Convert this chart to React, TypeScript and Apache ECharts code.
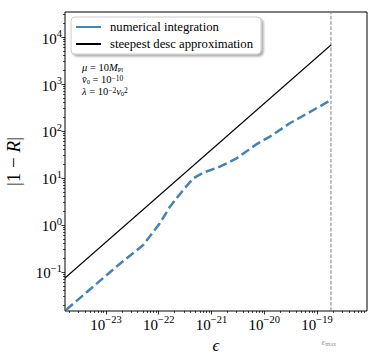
import React, { useEffect, useRef } from 'react';
import * as echarts from 'echarts';

// numerical integration curve (epsilon, |1-R|)
const numEps = [1.74e-24, 5.75e-24, 1.84e-23, 5.08e-23, 1.05e-22, 1.63e-22, 2.18e-22, 2.91e-22, 4.5e-22, 6.97e-22, 1.44e-21, 2.99e-21, 7.14e-21, 1.28e-20, 3.05e-20, 1.62e-19, 1.84e-19];
const numVals = [0.0155, 0.049, 0.15, 0.375, 1.09, 2.45, 3.7, 5.56, 9.86, 12.97, 17.4, 26.2, 52.5, 75.7, 146, 420, 442];
// steepest descent approximation
const sdEps = [1.67e-24, 1.84e-19];
const sdVals = [0.0745, 6760];
const epsMax = 1.84e-19;

const xTickExps = [-23, -22, -21, -20, -19];
const yTickExps = [-1, 0, 1, 2, 3, 4];
const xMin = Math.pow(10, -23.777);
const xMax = Math.pow(10, -18.052);
const yMin = Math.pow(10, -1.83);
const yMax = Math.pow(10, 4.532);

const legendNames = ['numerical integration', 'steepest desc approximation'];

const SERIF = "'Liberation Serif', 'DejaVu Serif', serif";

function minorVals(lo: number, hi: number): number[] {
  const out: number[] = [];
  for (let d = Math.floor(Math.log10(lo)); d <= Math.ceil(Math.log10(hi)); d++) {
    for (let k = 2; k <= 9; k++) {
      const v = k * Math.pow(10, d);
      if (v >= lo && v <= hi) out.push(v);
    }
  }
  return out;
}

const supRich = {
  b: { fontFamily: SERIF, fontSize: 15, color: '#000', verticalAlign: 'bottom', lineHeight: 18 },
  e: { fontFamily: SERIF, fontSize: 10.5, color: '#000', verticalAlign: 'top', lineHeight: 11 },
};
const fmt = (v: number) => {
  const e = Math.round(Math.log10(v));
  return `{b|10}{e|${e < 0 ? '\u2212' + -e : e}}`;
};

const annRich = {
  i: { fontFamily: SERIF, fontSize: 10.5, fontStyle: 'italic', fill: '#000', lineHeight: 11, verticalAlign: 'middle' },
  r: { fontFamily: SERIF, fontSize: 10.5, fill: '#000', lineHeight: 11, verticalAlign: 'middle' },
  s: { fontFamily: SERIF, fontSize: 6.5, fill: '#000', lineHeight: 5, verticalAlign: 'bottom' },
  p: { fontFamily: SERIF, fontSize: 7.5, fill: '#000', lineHeight: 5, verticalAlign: 'top' },
};

export default function App() {
  const ref = useRef<HTMLDivElement>(null);
  useEffect(() => {
    if (!ref.current) return;
    const chart = echarts.init(ref.current, undefined, { renderer: 'svg' });
    const xMajor = xTickExps.map((e) => Math.pow(10, e));
    const yMajor = yTickExps.map((e) => Math.pow(10, e));
    const tickStyle = { color: '#000', width: 0.8 };
    chart.setOption({
      animation: false,
      backgroundColor: '#fff',
      grid: {
        left: 65,
        top: 12,
        width: 302,
        height: 299,
        show: true,
        borderColor: '#000',
        borderWidth: 1,
        containLabel: false,
        outerBoundsMode: 'none',
      },
      legend: {
        orient: 'vertical',
        left: 71,
        top: 17,
        icon: 'rect',
        itemWidth: 25,
        itemHeight: 2,
        itemGap: 3,
        padding: [3, 8, 3, 5],
        backgroundColor: '#fff',
        borderColor: '#cccccc',
        borderWidth: 1,
        borderRadius: 4,
        shadowColor: 'rgba(0,0,0,0.35)',
        shadowOffsetX: 2,
        shadowOffsetY: 2,
        shadowBlur: 2,
        textStyle: { fontFamily: SERIF, fontSize: 12.7, color: '#000', lineHeight: 14, padding: [0, 0, 0, 4] },
        data: legendNames,
      },
      xAxis: [
        {
          type: 'log',
          logBase: 10,
          min: xMin,
          max: xMax,
          position: 'bottom',
          axisLine: { show: false },
          splitLine: { show: false },
          axisTick: { show: true, customValues: xMajor, length: 3.5, inside: false, lineStyle: tickStyle },
          axisLabel: { customValues: xMajor, formatter: fmt, rich: supRich, margin: 3 },
          name: '\u03f5',
          nameLocation: 'middle',
          nameGap: 25,
          nameTextStyle: { fontFamily: SERIF, fontSize: 17, fontStyle: 'italic', color: '#000' },
        },
        {
          type: 'log',
          logBase: 10,
          min: xMin,
          max: xMax,
          position: 'bottom',
          axisLine: { show: false },
          splitLine: { show: false },
          axisLabel: { show: false },
          axisTick: { show: true, customValues: minorVals(xMin, xMax), length: 2, inside: false, lineStyle: { color: '#000', width: 0.7 } },
        },
      ],
      yAxis: [
        {
          type: 'log',
          logBase: 10,
          min: yMin,
          max: yMax,
          position: 'left',
          axisLine: { show: false },
          splitLine: { show: false },
          axisTick: { show: true, customValues: yMajor, length: 3.5, inside: false, lineStyle: tickStyle },
          axisLabel: { customValues: yMajor, formatter: fmt, rich: supRich, margin: 3 },
          name: '{r||1 \u2212 }{i|R}{r||}',
          nameLocation: 'middle',
          nameRotate: 90,
          nameGap: 42,
          nameTextStyle: {
            rich: {
              r: { fontFamily: SERIF, fontSize: 19, color: '#000' },
              i: { fontFamily: SERIF, fontSize: 19, fontStyle: 'italic', color: '#000' },
            },
          },
        },
        {
          type: 'log',
          logBase: 10,
          min: yMin,
          max: yMax,
          position: 'left',
          axisLine: { show: false },
          splitLine: { show: false },
          axisLabel: { show: false },
          axisTick: { show: true, customValues: minorVals(yMin, yMax), length: 2, inside: false, lineStyle: { color: '#000', width: 0.7 } },
        },
      ],
      series: [
        {
          name: 'eps_max',
          type: 'line',
          xAxisIndex: 0,
          yAxisIndex: 0,
          data: [
            [epsMax, yMin],
            [epsMax, yMax],
          ],
          showSymbol: false,
          symbol: 'none',
          silent: true,
          lineStyle: { color: '#7f7f7f', width: 1, type: [3.7, 1.6] },
          z: 1,
        },
        {
          name: legendNames[0],
          type: 'line',
          xAxisIndex: 0,
          yAxisIndex: 0,
          data: numEps.map((e, i) => [e, numVals[i]]),
          showSymbol: false,
          symbol: 'none',
          color: '#4682B4',
          itemStyle: { color: '#4682B4' },
          lineStyle: { color: '#4682B4', width: 2.5, type: [9.25, 4] },
          z: 3,
        },
        {
          name: legendNames[1],
          type: 'line',
          xAxisIndex: 0,
          yAxisIndex: 0,
          data: sdEps.map((e, i) => [e, sdVals[i]]),
          showSymbol: false,
          symbol: 'none',
          color: '#000',
          itemStyle: { color: '#000' },
          lineStyle: { color: '#000', width: 1.1 },
          z: 2,
        },
      ],
      graphic: [
        {
          id: 'ann1',
          type: 'text',
          x: 82,
          y: 62,
          style: { text: '{i|\u03bc}{r| = 10}{i|M}{s|Pl}', rich: annRich, verticalAlign: 'top' },
        },
        {
          id: 'ann2',
          type: 'text',
          x: 82,
          y: 74,
          style: { text: '{i|v\u0304}{s|0}{r| = 10}{p|\u221210}', rich: annRich, verticalAlign: 'top' },
        },
        {
          id: 'ann3',
          type: 'text',
          x: 82,
          y: 86,
          style: { text: '{i|\u03bb}{r| = 10}{p|\u22122}{i|v}{s|0}{p|2}', rich: annRich, verticalAlign: 'top' },
        },
      ],
    });
    const pt = chart.convertToPixel({ xAxisIndex: 0, yAxisIndex: 0 }, [epsMax, yMin]) as number[];
    if (pt && isFinite(pt[0])) {
      chart.setOption({
        graphic: [
          {
            id: 'epsmax',
            type: 'text',
            x: pt[0] - 2,
            y: pt[1] + 31,
            style: {
              text: '{a|\u03f5}{s|max}',
              align: 'center',
              verticalAlign: 'middle',
              rich: {
                a: { fontFamily: SERIF, fontSize: 9, fontStyle: 'italic', fill: '#999', verticalAlign: 'top', lineHeight: 10 },
                s: { fontFamily: SERIF, fontSize: 6.5, fill: '#999', verticalAlign: 'bottom', lineHeight: 6 },
              },
            },
          },
        ],
      });
    }
    return () => chart.dispose();
  }, []);
  return <div ref={ref} style={{ position: 'fixed', left: 0, top: 0, width: 379, height: 360 }} />;
}
